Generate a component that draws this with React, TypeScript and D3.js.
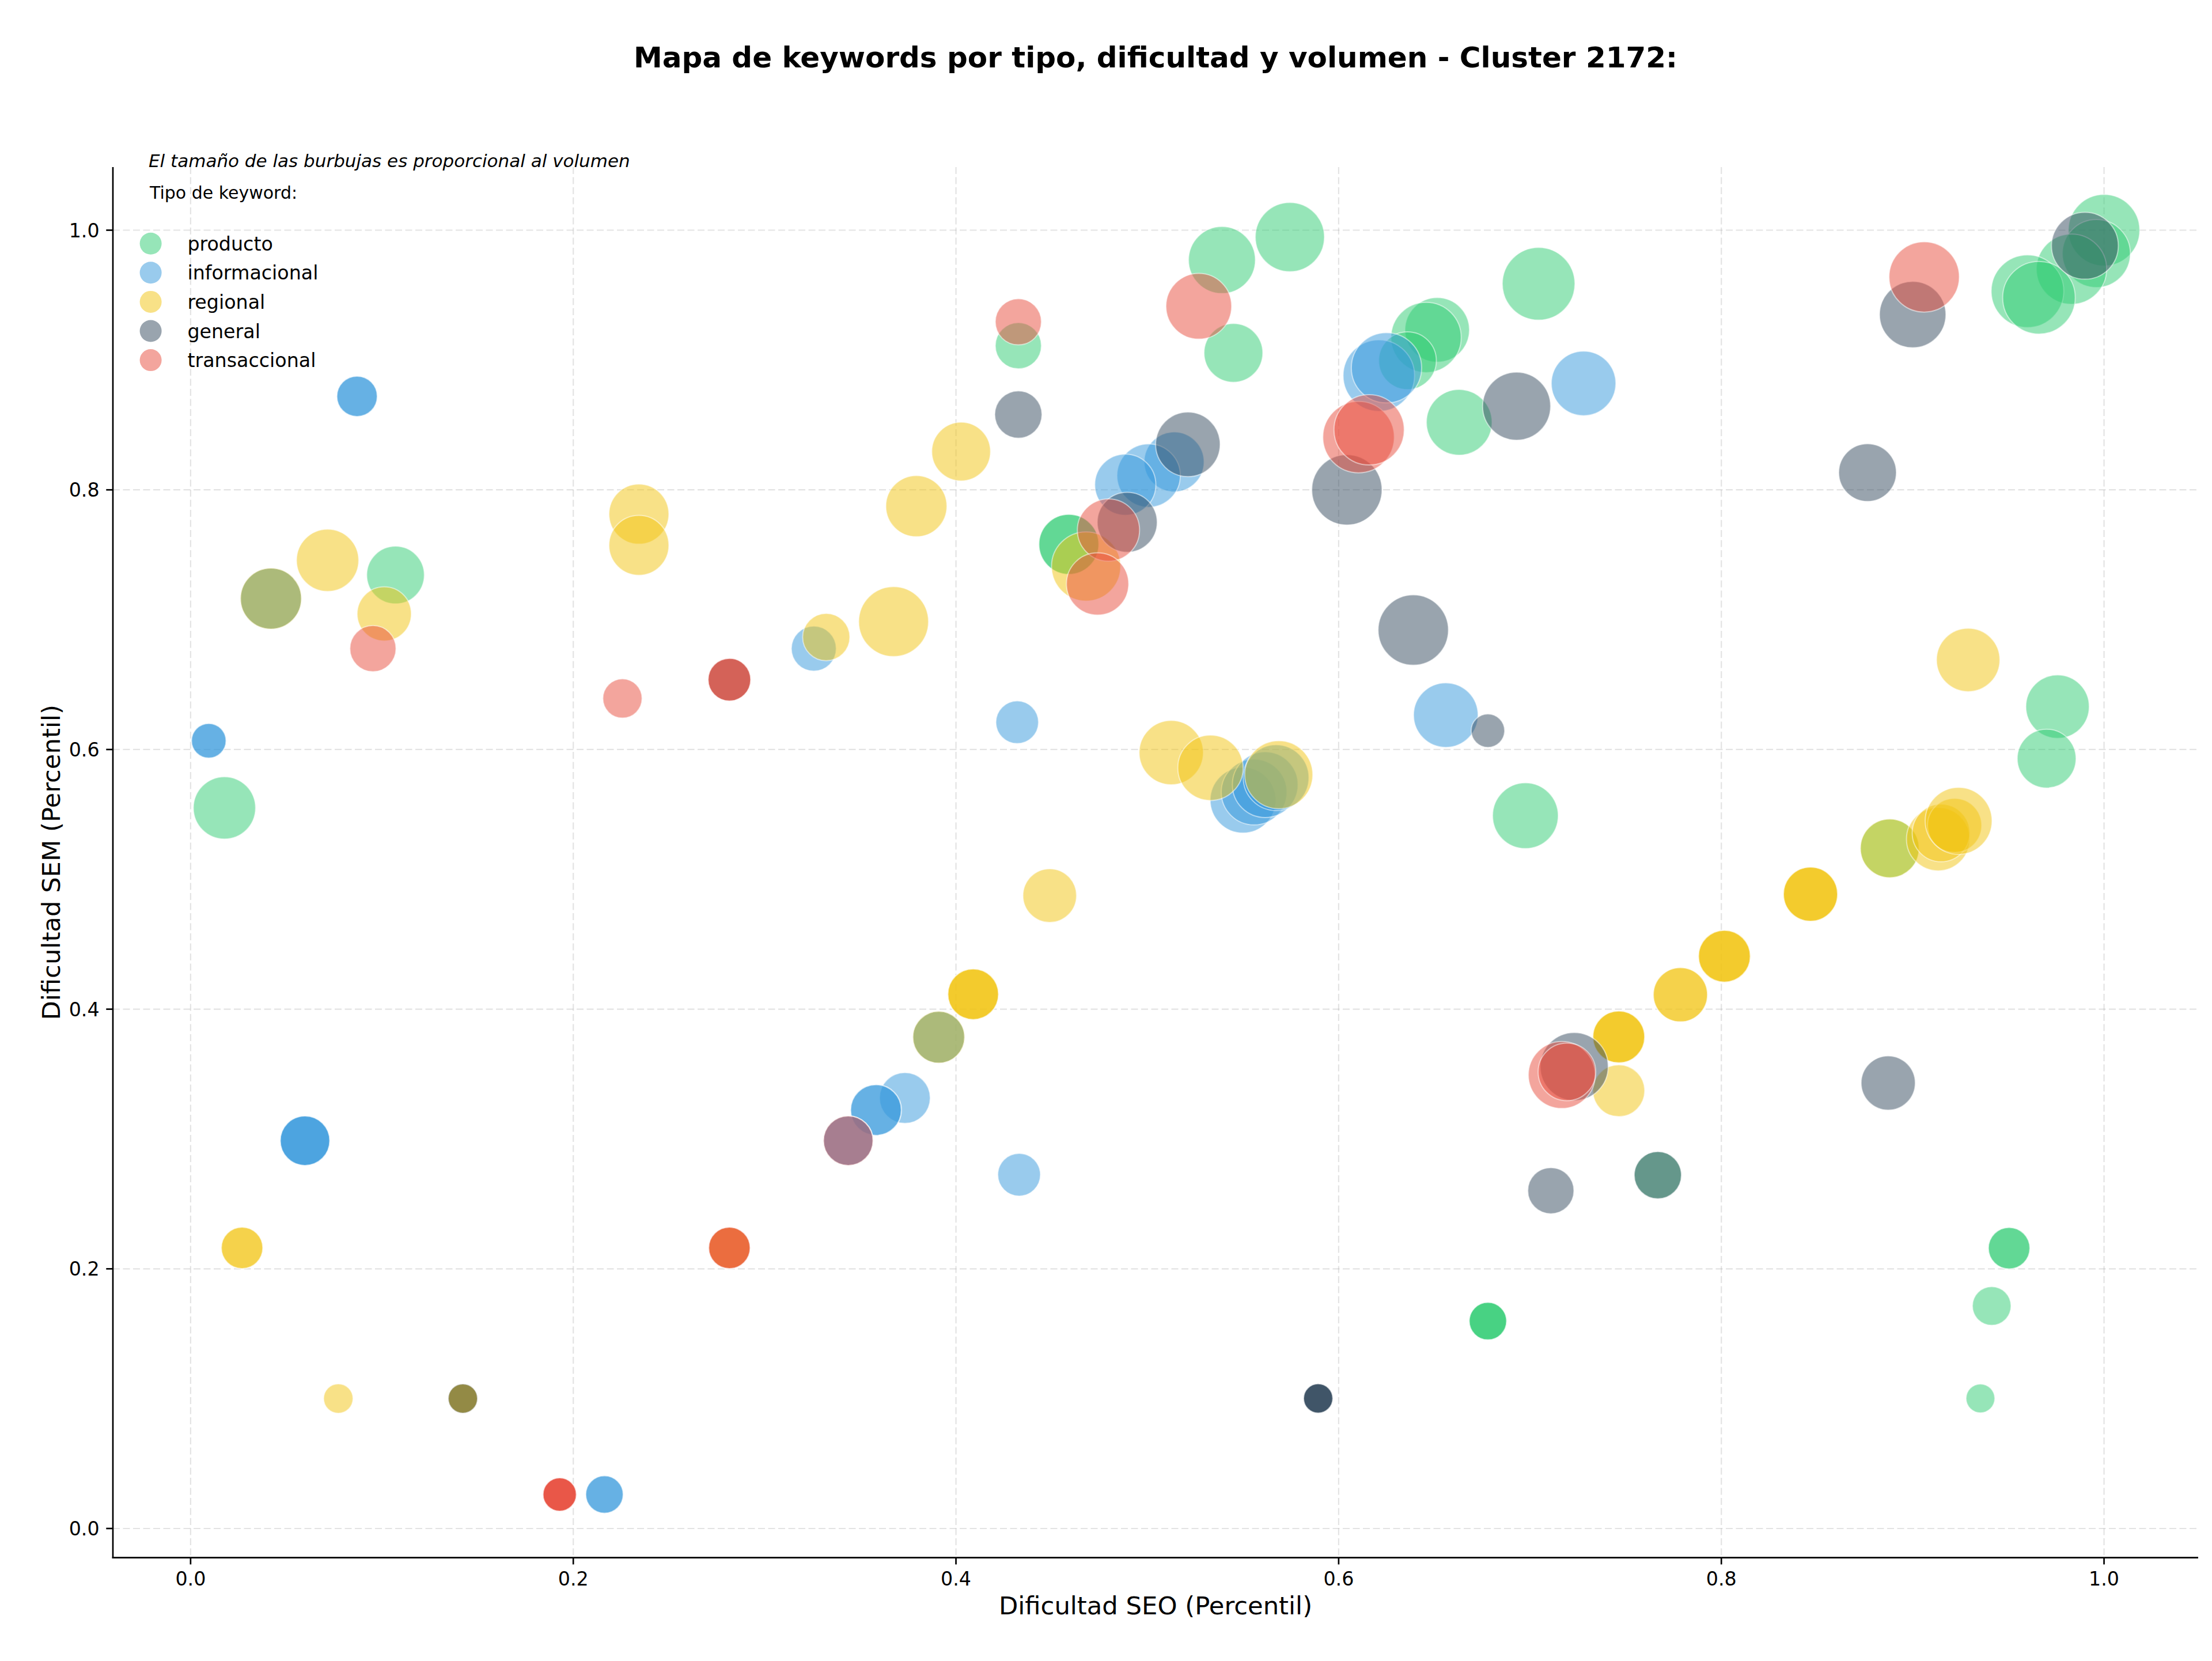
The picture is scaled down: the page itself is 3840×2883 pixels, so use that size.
import React from 'react';
import * as d3 from 'd3';

const tipos = ['producto', 'informacional', 'regional', 'general', 'transaccional'];
const colores = ['#2ecc71', '#3498db', '#f1c40f', '#34495e', '#e74c3c'];

// producto
const productoSEO = [1.0, 0.996, 0.983, 0.96, 0.966, 0.539, 0.5745, 0.545, 0.4326, 0.7045, 0.6515, 0.6457, 0.636, 0.663, 0.459, 0.459, 0.1071, 0.0177, 0.6976, 0.9757, 0.97, 0.9504, 0.9504, 0.9413, 0.9354, 0.678, 0.678, 0.678, 0.888, 0.7668];
const productoSEM = [1.0, 0.982, 0.97, 0.953, 0.948, 0.977, 0.9947, 0.9055, 0.911, 0.9587, 0.9232, 0.9174, 0.8995, 0.852, 0.758, 0.758, 0.7344, 0.555, 0.549, 0.633, 0.593, 0.2159, 0.2159, 0.1714, 0.1002, 0.1597, 0.1597, 0.1597, 0.5239, 0.2721];
const productoVol = [968, 877, 937, 1000, 1000, 848, 907, 655, 403, 1000, 790, 937, 630, 818, 681, 681, 630, 735, 818, 762, 655, 327, 327, 283, 157, 266, 266, 266, 655, 423];

// informacional
const informacionalSEO = [0.087, 0.087, 0.0095, 0.0095, 0.0598, 0.0598, 0.0598, 0.2163, 0.2163, 0.3733, 0.3582, 0.3582, 0.391, 0.391, 0.3437, 0.3437, 0.042, 0.042, 0.3257, 0.432, 0.433, 0.656, 0.728, 0.621, 0.625, 0.514, 0.5007, 0.4885, 0.55, 0.5558, 0.5616, 0.5673];
const informacionalSEM = [0.872, 0.872, 0.6067, 0.6067, 0.2987, 0.2987, 0.2987, 0.0262, 0.0262, 0.3316, 0.3223, 0.3223, 0.3784, 0.3784, 0.2987, 0.2987, 0.7162, 0.7162, 0.6777, 0.621, 0.2725, 0.6265, 0.882, 0.888, 0.894, 0.8215, 0.811, 0.804, 0.561, 0.5672, 0.5729, 0.5783];
const informacionalVol = [310, 310, 227, 227, 466, 466, 466, 266, 266, 488, 488, 488, 510, 510, 466, 466, 708, 708, 383, 345, 345, 790, 790, 968, 937, 681, 762, 708, 818, 818, 818, 818];

// regional
const regionalSEO = [0.0716, 0.1012, 0.2343, 0.2343, 0.3322, 0.3674, 0.3793, 0.4027, 0.468, 0.5125, 0.533, 0.5687, 0.449, 0.409, 0.409, 0.409, 0.391, 0.042, 0.0269, 0.0269, 0.0772, 0.1423, 0.1423, 0.1423, 0.2816, 0.2816, 0.7464, 0.7464, 0.7464, 0.7464, 0.7786, 0.7786, 0.8016, 0.8016, 0.8016, 0.8466, 0.8466, 0.8466, 0.888, 0.9133, 0.9148, 0.9219, 0.924, 0.929];
const regionalSEM = [0.7457, 0.7045, 0.7813, 0.7573, 0.6866, 0.6985, 0.7874, 0.8295, 0.741, 0.5976, 0.5859, 0.5806, 0.4875, 0.4115, 0.4115, 0.4115, 0.3784, 0.7162, 0.2161, 0.2161, 0.1001, 0.1001, 0.1001, 0.1001, 0.2161, 0.2161, 0.3786, 0.3786, 0.3786, 0.3372, 0.4111, 0.4111, 0.4408, 0.4408, 0.4408, 0.4886, 0.4886, 0.4886, 0.5239, 0.531, 0.5357, 0.5415, 0.545, 0.669];
const regionalVol = [735, 557, 681, 681, 423, 925, 708, 655, 907, 782, 810, 877, 545, 488, 488, 488, 510, 708, 327, 327, 164, 164, 164, 164, 327, 327, 510, 510, 510, 510, 557, 557, 510, 510, 510, 557, 557, 557, 655, 762, 630, 557, 848, 762];

// general
const generalSEO = [0.99, 0.9, 0.8764, 0.8872, 0.4326, 0.5212, 0.4895, 0.6043, 0.693, 0.639, 0.678, 0.7231, 0.7109, 0.7668, 0.5893, 0.5893, 0.5893, 0.5893, 0.1423, 0.2816];
const generalSEM = [0.988, 0.935, 0.8133, 0.3431, 0.858, 0.835, 0.775, 0.8, 0.8644, 0.692, 0.6145, 0.3558, 0.2602, 0.2721, 0.1002, 0.1002, 0.1002, 0.1002, 0.1001, 0.6538];
const generalVol = [848, 836, 630, 556, 423, 790, 681, 937, 877, 937, 212, 877, 403, 423, 163, 163, 163, 163, 164, 345];

// transaccional
const transaccionalSEO = [0.906, 0.5269, 0.4326, 0.6104, 0.6159, 0.4797, 0.474, 0.0953, 0.2257, 0.2816, 0.2816, 0.3437, 0.2816, 0.2816, 0.1929, 0.1929, 0.1929, 0.1929, 0.7166, 0.7193];
const transaccionalSEM = [0.964, 0.9414, 0.9294, 0.8406, 0.8462, 0.769, 0.7275, 0.6777, 0.6393, 0.6538, 0.6538, 0.2987, 0.2161, 0.2161, 0.0262, 0.0262, 0.0262, 0.0262, 0.3493, 0.3517];
const transaccionalVol = [937, 818, 403, 968, 937, 735, 735, 403, 291, 345, 345, 466, 327, 327, 212, 212, 212, 212, 848, 630];

const series = [
  [productoSEO, productoSEM, productoVol],
  [informacionalSEO, informacionalSEM, informacionalVol],
  [regionalSEO, regionalSEM, regionalVol],
  [generalSEO, generalSEM, generalVol],
  [transaccionalSEO, transaccionalSEM, transaccionalVol],
];

const xTicks = [0, 0.2, 0.4, 0.6, 0.8, 1.0];
const yTicks = [0, 0.2, 0.4, 0.6, 0.8, 1.0];

const titulo = 'Mapa de keywords por tipo, dificultad y volumen - Cluster 2172:';
const nota = 'El tamaño de las burbujas es proporcional al volumen';
const tituloLeyenda = 'Tipo de keyword:';
const xLabel = 'Dificultad SEO (Percentil)';
const yLabel = 'Dificultad SEM (Percentil)';

const FONT = "'DejaVu Sans', 'Liberation Sans', sans-serif";

export default function App() {
  const W = 3840;
  const H = 2883;
  const left = 196, right = 3816, top = 290, bottom = 2703.7;
  const x = d3.scaleLinear().domain([-0.0406, 1.0492]).range([left, right]);
  const y = d3.scaleLinear().domain([-0.0225, 1.0486]).range([bottom, top]);
  const r = d3.scaleSqrt().domain([0, 1000]).range([0, 63]);
  const fmt = d3.format('.1f');

  const points: { cx: number; cy: number; rr: number; c: string }[] = [];
  series.forEach(([xs, ys, vs], ti) => {
    xs.forEach((v, i) => {
      points.push({ cx: x(v), cy: y(ys[i]), rr: r(vs[i]), c: colores[ti] });
    });
  });

  const tickLen = 11.7;
  const lw = 2.67;

  return (
    <svg width={W} height={H} style={{ position: 'absolute', left: 0, top: 0, background: '#fff' }} fontFamily={FONT}>
      <rect x={0} y={0} width={W} height={H} fill="#fff" />
      <defs>
        <clipPath id="plotclip">
          <rect x={left} y={top} width={right - left} height={bottom - top} />
        </clipPath>
      </defs>
      {/* grid */}
      <g stroke="#b0b0b0" strokeOpacity={0.35} strokeWidth={2.2} strokeDasharray="12 5.5">
        {xTicks.map((t) => (
          <line key={'gx' + t} x1={x(t)} x2={x(t)} y1={top} y2={bottom} />
        ))}
        {yTicks.map((t) => (
          <line key={'gy' + t} x1={left} x2={right} y1={y(t)} y2={y(t)} />
        ))}
      </g>
      {/* bubbles */}
      <g clipPath="url(#plotclip)">
        {points.map((p, i) => (
          <circle key={i} cx={p.cx} cy={p.cy} r={p.rr} fill={p.c} fillOpacity={0.5} stroke="#fff" strokeOpacity={0.5} strokeWidth={2} />
        ))}
      </g>
      {/* spines */}
      <line x1={left} x2={left} y1={top} y2={bottom + lw / 2} stroke="#000" strokeWidth={lw} />
      <line x1={left - lw / 2} x2={right} y1={bottom} y2={bottom} stroke="#000" strokeWidth={lw} />
      {/* x ticks */}
      {xTicks.map((t) => (
        <g key={'xt' + t}>
          <line x1={x(t)} x2={x(t)} y1={bottom} y2={bottom + tickLen} stroke="#000" strokeWidth={lw} />
          <text x={x(t)} y={bottom + tickLen + 11.7 + 24.5} fontSize={33.3} textAnchor="middle" fill="#000">{fmt(t)}</text>
        </g>
      ))}
      {/* y ticks */}
      {yTicks.map((t) => (
        <g key={'yt' + t}>
          <line x1={left - tickLen} x2={left} y1={y(t)} y2={y(t)} stroke="#000" strokeWidth={lw} />
          <text x={left - tickLen - 11.7} y={y(t) + 12} fontSize={33.3} textAnchor="end" fill="#000">{fmt(t)}</text>
        </g>
      ))}
      {/* axis labels */}
      <text x={(left + right) / 2} y={2802} fontSize={43.3} textAnchor="middle" fill="#000">{xLabel}</text>
      <text transform={`translate(104, ${(top + bottom) / 2}) rotate(-90)`} fontSize={43.3} textAnchor="middle" fill="#000">{yLabel}</text>
      {/* title */}
      <text x={(left + right) / 2} y={117} fontSize={50} fontWeight="bold" textAnchor="middle" fill="#000">{titulo}</text>
      {/* note */}
      <text x={258} y={290} fontSize={31} fontStyle="italic" fill="#000">{nota}</text>
      {/* legend */}
      <text x={260} y={345} fontSize={30} fill="#000">{tituloLeyenda}</text>
      {tipos.map((t, i) => (
        <g key={t}>
          <circle cx={261.6} cy={422.7 + i * 50.6} r={19} fill={colores[i]} fillOpacity={0.5} />
          <text x={325.4} y={422.7 + i * 50.6 + 12} fontSize={33.3} fill="#000">{t}</text>
        </g>
      ))}
    </svg>
  );
}
